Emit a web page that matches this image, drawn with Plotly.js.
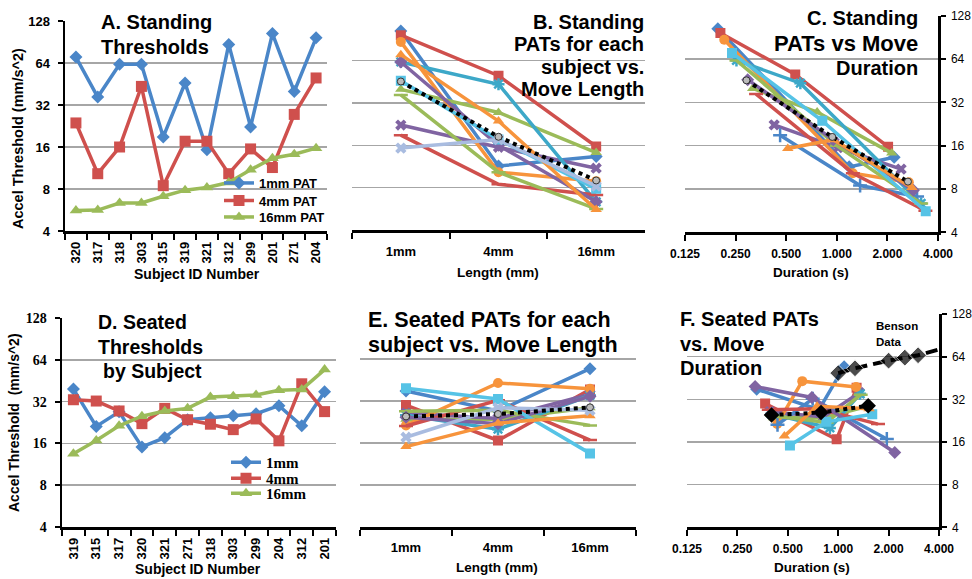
<!DOCTYPE html>
<html><head><meta charset="utf-8">
<script src="https://cdn.plot.ly/plotly-3.0.1.min.js"></script>
<style>html,body{margin:0;padding:0;background:#fff}#chart{width:972px;height:579px}</style>
</head><body><div id="chart"></div>
<script>
// ================= DATA =================
// Panel A (standing) – subject order as plotted
const standingIds = ['320','317','318','303','315','319','321','312','299','201','271','204'];
const standing1mm  = [70.6, 36.5, 62.6, 62.6, 18.9, 46.0, 15.3, 87.0, 22.3, 104.0, 40.0, 97.0];
const standing4mm  = [23.8, 10.3, 16.0, 43.5, 8.45, 17.6, 17.6, 10.3, 15.5, 11.4, 27.4, 50.0];
const standing16mm = [5.6, 5.65, 6.35, 6.35, 7.1, 7.85, 8.2, 8.9, 11.0, 13.3, 14.2, 15.7];
// Panel C move durations (s), same subject order
const standingDur1mm  = [0.238, 0.331, 0.253, 0.253, 0.460, 0.295, 0.511, 0.214, 0.424, 0.196, 0.316, 0.203];
const standingDur4mm  = [0.820, 1.246, 1.000, 0.607, 1.376, 0.953, 0.953, 1.246, 1.016, 1.185, 0.764, 0.566];
const standingDur16mm = [3.381, 3.366, 3.175, 3.175, 3.002, 2.855, 2.794, 2.682, 2.412, 2.194, 2.123, 2.019];

// Panel D (seated)
const seatedIds = ['319','315','317','320','321','271','318','303','299','204','312','201'];
const seated1mm  = [39.4, 21.2, 27.0, 15.1, 17.6, 23.7, 24.5, 25.3, 26.2, 29.9, 21.4, 37.7];
const seated4mm  = [33.0, 32.3, 27.4, 22.2, 28.6, 23.7, 22.0, 20.1, 24.0, 16.7, 43.0, 27.1];
const seated16mm = [13.5, 16.8, 21.4, 25.1, 27.4, 28.6, 34.5, 35.0, 35.7, 38.6, 39.1, 54.4];
const seatedDur1mm  = [0.319, 0.434, 0.385, 0.515, 0.477, 0.411, 0.404, 0.398, 0.391, 0.366, 0.432, 0.326];
const seatedDur4mm  = [0.696, 0.704, 0.764, 0.849, 0.748, 0.822, 0.853, 0.892, 0.816, 0.979, 0.610, 0.768];
const seatedDur16mm = [2.177, 1.952, 1.729, 1.597, 1.528, 1.496, 1.362, 1.352, 1.339, 1.288, 1.279, 1.085];

// Group means (dotted black)
const lengthLabels = ['1mm','4mm','16mm'];
const standingMean = [45.5, 18.4, 9.0];
const standingMeanDur = [0.29, 0.94, 2.65];
const seatedMean = [24.8, 25.8, 28.8];
const seatedMeanDur = [0.40, 0.79, 1.51];

// Benson data (panel F)
const bensonDur = [1.0, 1.26, 2.0, 2.5, 3.0, 4.0];
const bensonPAT = [49, 53, 60, 63, 65.5, 72];

// Tick labels
const yTicks = [4, 8, 16, 32, 64, 128];
const yTickText = ['4','8','16','32','64','128'];
const durTicks = [0.125, 0.25, 0.5, 1, 2, 4];
const durTickText = ['0.125','0.250','0.500','1.000','2.000','4.000'];
const seriesOrder = ['201','204','271','299','303','312','315','317','318','319','320','321'];

// ================= STYLES =================
const COL = {blue:'#4A86C8', red:'#CF504D', green:'#9BBB59', purple:'#8064A2', teal:'#3DA8C8',
             orange:'#F7943C', cyan:'#56C3E6', lightblue:'#A9BCE0'};
const lineStyles = {
  '201':[COL.blue,'diamond'], '204':[COL.red,'square'], '271':[COL.green,'triangle-up'],
  '299':[COL.purple,'x'], '303':[COL.teal,'asterisk-open'], '312':[COL.orange,'circle'],
  '315':[COL.red,'line-ew-open'], '317':[COL.green,'line-ew-open'], '318':[COL.purple,'diamond'],
  '319':[COL.cyan,'square'], '320':[COL.orange,'triangle-up'], '321':[COL.lightblue,'x']
};
const scatterStyles = {
  '201':[COL.blue,'diamond'], '204':[COL.red,'square'], '271':[COL.green,'triangle-up'],
  '299':[COL.purple,'x'], '303':[COL.teal,'asterisk-open'], '312':[COL.orange,'circle'],
  '315':[COL.blue,'cross-thin-open'], '317':[COL.red,'line-ew-open'], '318':[COL.green,'line-ew-open'],
  '319':[COL.purple,'diamond'], '320':[COL.cyan,'square'], '321':[COL.orange,'triangle-up']
};
const SANS = 'Liberation Sans, Arial, sans-serif';
const SERIF = 'Liberation Serif, Times New Roman, serif';

function mk(style, size){
  const open = style[1].indexOf('open') >= 0;
  return {symbol: style[1], size: size, color: style[0],
          line: {color: style[0], width: open ? 2.5 : 0}};
}

const traces = [];
// Panel A (one legend per entry so rows can sit as tightly as in the original)
[[standing1mm,'1mm PAT',COL.blue,'diamond',10,'legend'],[standing4mm,'4mm PAT',COL.red,'square',11,'legend2'],
 [standing16mm,'16mm PAT',COL.green,'triangle-up',11,'legend3']].forEach(s => {
  traces.push({type:'scatter', mode:'lines+markers', x: standingIds, y: s[0], name: s[1],
    xaxis:'x', yaxis:'y', legend:s[5],
    line:{color:s[2], width:3.5}, marker:{symbol:s[3], size:s[4], color:s[2]}});
});
// Panel D
[[seated1mm,'1mm',COL.blue,'diamond',10,'legend4'],[seated4mm,'4mm',COL.red,'square',11,'legend5'],
 [seated16mm,'16mm',COL.green,'triangle-up',11,'legend6']].forEach(s => {
  traces.push({type:'scatter', mode:'lines+markers', x: seatedIds, y: s[0], name: s[1],
    xaxis:'x4', yaxis:'y4', legend:s[5],
    line:{color:s[2], width:3.5}, marker:{symbol:s[3], size:s[4], color:s[2]}});
});

function subjectPanels(ids, v1, v4, v16, d1, d4, d16, xaL, yaL, xaS, yaS){
  seriesOrder.forEach(id => {
    const i = ids.indexOf(id);
    const ls = lineStyles[id], ss = scatterStyles[id];
    traces.push({type:'scatter', mode:'lines+markers', x: lengthLabels, y:[v1[i], v4[i], v16[i]],
      xaxis:xaL, yaxis:yaL, showlegend:false, line:{color:ls[0], width:3.5}, marker: mk(ls, 10)});
    traces.push({type:'scatter', mode:'lines+markers', x:[d1[i], d4[i], d16[i]], y:[v1[i], v4[i], v16[i]],
      xaxis:xaS, yaxis:yaS, showlegend:false, line:{color:ss[0], width:3.5}, marker: mk(ss, 10)});
  });
}
subjectPanels(standingIds, standing1mm, standing4mm, standing16mm,
              standingDur1mm, standingDur4mm, standingDur16mm, 'x2','y2','x3','y3');
subjectPanels(seatedIds, seated1mm, seated4mm, seated16mm,
              seatedDur1mm, seatedDur4mm, seatedDur16mm, 'x5','y5','x6','y6');

// Means
const meanMarker = {symbol:'circle', size:7, color:'#BBBBBB', line:{color:'#333', width:1}};
traces.push({type:'scatter', mode:'lines+markers', x:lengthLabels, y:standingMean, xaxis:'x2', yaxis:'y2',
  showlegend:false, line:{color:'#000', width:4, dash:'dot'}, marker:meanMarker});
traces.push({type:'scatter', mode:'lines+markers', x:standingMeanDur, y:standingMean, xaxis:'x3', yaxis:'y3',
  showlegend:false, line:{color:'#000', width:4, dash:'dot'}, marker:meanMarker});
traces.push({type:'scatter', mode:'lines+markers', x:lengthLabels, y:seatedMean, xaxis:'x5', yaxis:'y5',
  showlegend:false, line:{color:'#000', width:4, dash:'dot'}, marker:meanMarker});
traces.push({type:'scatter', mode:'lines+markers', x:seatedMeanDur, y:seatedMean, xaxis:'x6', yaxis:'y6',
  showlegend:false, line:{color:'#000', width:4, dash:'dot'}, marker:{symbol:'diamond', size:12, color:'#000'}});
// Benson
traces.push({type:'scatter', mode:'lines+markers', x:bensonDur, y:bensonPAT, xaxis:'x6', yaxis:'y6',
  showlegend:false, cliponaxis:false, line:{color:'#000', width:4, dash:'12px,6px'},
  marker:{symbol:'diamond', size:[13,13,13,13,13,0], color:'#000'}});

// ================= LAYOUT =================
const W = 972, H = 579;
const dx = (a,b) => [a/W, b/W];
const dy = (top,bottom) => [1-bottom/H, 1-top/H];
const px = v => v/W, py = v => 1 - v/H;
const LOGR = [Math.log10(4), Math.log10(128)];
const DURR = [Math.log10(0.125), Math.log10(4)];
const GRID = '#A6A6A6';
const bold = (size, fam) => ({family: fam || SANS, size: size, color:'#000', weight:'bold'});

function catX(domain, anchor, nCat, angle, standoff){
  return {domain, anchor, type:'category', range:[-0.5, nCat-0.5], tickson:'boundaries',
    ticks:'outside', ticklen:6, tickwidth:2, tickcolor:'#000', showline:true, linecolor:'#000', linewidth:2.5,
    showgrid:false, zeroline:false, tickangle:angle, tickfont:bold(13), ticklabelstandoff:standoff, fixedrange:true};
}
function logY(domain, anchor, opts){
  return Object.assign({domain, anchor, type:'log', range:LOGR, tickvals:yTicks, ticktext:yTickText,
    showgrid:true, gridcolor:GRID, gridwidth:1.5, zeroline:false, fixedrange:true}, opts);
}
function durX(domain, anchor){
  return {domain, anchor, type:'log', range:DURR, tickvals:durTicks, ticktext:durTickText,
    ticks:'outside', ticklen:6, tickwidth:2, tickcolor:'#000', showline:true, linecolor:'#000', linewidth:2.5,
    showgrid:false, zeroline:false, tickfont:bold(12), ticklabelstandoff:3, fixedrange:true};
}
const yLeft = f => ({ticks:'outside', ticklen:5, tickwidth:2, tickcolor:'#000', showline:true,
  linecolor:'#000', linewidth:2.5, tickfont:f, ticklabelstandoff:5});
const yNone = {showticklabels:false, ticks:'', showline:false};
const yRight = {side:'right', ticks:'outside', ticklen:5, tickwidth:2, tickcolor:'#000', showline:true,
  linecolor:'#000', linewidth:2.5, tickfont:{family:SANS, size:12, color:'#000'}, ticklabelstandoff:3};

function ann(text, x, y, size, xanchor, extra){
  return Object.assign({text, x:px(x), y:py(y), xref:'paper', yref:'paper', xanchor:xanchor||'left',
    yanchor:'middle', showarrow:false, font:bold(size)}, extra||{});
}

const annotations = [
  ann('A. Standing', 99, 22, 20), ann('Thresholds', 99, 47, 20),
  ann('B. Standing', 646, 22, 20, 'right'), ann('PATs for each', 646, 44, 20, 'right'),
  ann('subject vs.', 646, 67, 20, 'right'), ann('Move Length', 646, 89, 20, 'right'),
  ann('C. Standing', 920, 18, 20, 'right'), ann('PATs vs Move', 920, 44, 22, 'right'),
  ann('Duration', 920, 68, 20, 'right'),
  ann('D. Seated', 96, 322, 19.5), ann('Thresholds', 96, 347, 19.5), ann('by Subject', 101, 371, 19.5),
  ann('E. Seated PATs for each', 366, 320, 21.5), ann('subject vs. Move Length', 366, 345, 21.5),
  ann('F. Seated PATs', 678, 319, 20), ann('vs. Move', 678, 344, 20), ann('Duration', 678, 368, 20),
  ann('Benson', 874, 326, 11.5), ann('Data', 874, 342, 11.5),
  // axis titles
  ann('Accel Threshold (mm/s^2)', 18, 139, 14.5, 'center', {textangle:-90}),
  ann('Subject ID Number', 197, 274, 14, 'center'),
  ann('Length (mm)', 498, 272, 13.5, 'center'),
  ann('Duration (s)', 811, 272, 13.5, 'center'),
  ann('Accel Threshold  (mm/s^2)', 14, 423, 14, 'center', {textangle:-90}),
  ann('Subject ID Number', 198, 569, 14, 'center'),
  ann('Length (mm)', 497, 567, 13.5, 'center'),
  ann('Duration (s)', 812, 567, 13.5, 'center')
];

const legA = top => ({x:px(219), y:py(top), xanchor:'left', yanchor:'top', bgcolor:'rgba(0,0,0,0)',
  font:bold(13), itemwidth:30});
const legD = top => ({x:px(226), y:py(top), xanchor:'left', yanchor:'top', bgcolor:'rgba(0,0,0,0)',
  font:bold(15, SERIF), itemwidth:30});

const layout = {
  width: W, height: H, margin:{l:0, r:0, t:0, b:0}, paper_bgcolor:'#fff', plot_bgcolor:'rgba(0,0,0,0)',
  font:{family:SANS, color:'#000'},
  xaxis:  catX(dx(65,327), 'y', 12, -90, 3),
  yaxis:  logY(dy(21,231), 'x', yLeft(bold(13))),
  xaxis2: catX(dx(352,645), 'y2', 3, 0, 8),
  yaxis2: logY(dy(18.3,230), 'x2', yNone),
  xaxis3: durX(dx(685,938), 'y3'),
  yaxis3: logY(dy(15.7,232.3), 'x3', yRight),
  xaxis4: catX(dx(62,336), 'y4', 12, -90, 3),
  yaxis4: logY(dy(318,527), 'x4', yLeft(bold(14, SERIF))),
  xaxis5: catX(dx(360,636), 'y5', 3, 0, 7),
  yaxis5: logY(dy(316.7,527.3), 'x5', yNone),
  xaxis6: durX(dx(687,939), 'y6'),
  yaxis6: logY(dy(314,527.3), 'x6', yRight),
  legend: legA(168), legend2: legA(185.5), legend3: legA(202),
  legend4: legD(446), legend5: legD(462), legend6: legD(477),
  annotations
};
layout.xaxis2.categoryorder = 'array'; layout.xaxis2.categoryarray = lengthLabels;
layout.xaxis5.categoryorder = 'array'; layout.xaxis5.categoryarray = lengthLabels;
layout.xaxis.categoryorder = 'array'; layout.xaxis.categoryarray = standingIds;
layout.xaxis4.categoryorder = 'array'; layout.xaxis4.categoryarray = seatedIds;

Plotly.newPlot('chart', traces, layout, {displayModeBar:false, staticPlot:true});
</script></body></html>
